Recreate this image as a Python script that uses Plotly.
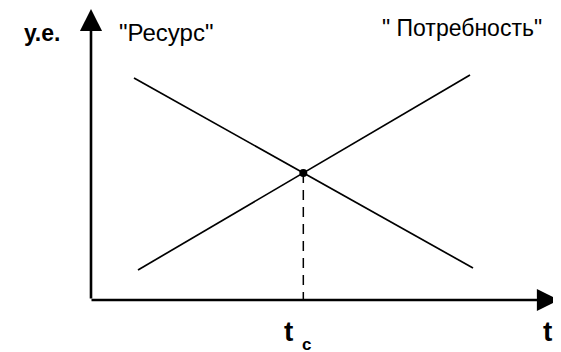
import plotly.graph_objects as go

# Data (abstract units: time t, conventional units y)
resource_t = [43, 382]
resource_y = [222, 32]
need_t = [47, 379]
need_y = [30, 225]

labels = {
    "yaxis": "у.е.",
    "resource": "\"Ресурс\"",
    "need": "\" Потребность\"",
    "t": "t",
    "tc": "t",
    "tc_sub": "c",
}

# intersection point of the two straight lines
k1 = (resource_y[1] - resource_y[0]) / (resource_t[1] - resource_t[0])
k2 = (need_y[1] - need_y[0]) / (need_t[1] - need_t[0])
b1 = resource_y[0] - k1 * resource_t[0]
b2 = need_y[0] - k2 * need_t[0]
tc = (b2 - b1) / (k1 - k2)
yc = k1 * tc + b1

fig = go.Figure()
line_style = dict(color="black", width=1.7)
fig.add_trace(go.Scatter(x=resource_t, y=resource_y, mode="lines", line=line_style, hoverinfo="skip"))
fig.add_trace(go.Scatter(x=need_t, y=need_y, mode="lines", line=line_style, hoverinfo="skip"))
fig.add_trace(go.Scatter(x=[tc, tc], y=[yc, 0], mode="lines",
                         line=dict(color="black", width=1.5, dash="10px,7px"), hoverinfo="skip"))
fig.add_trace(go.Scatter(x=[tc], y=[yc], mode="markers",
                         marker=dict(color="black", size=8, symbol="circle"), hoverinfo="skip"))

# axes as arrows
fig.add_annotation(x=0, y=291, ax=0, ay=0, xref="x", yref="y", axref="x", ayref="y",
                   text="", showarrow=True, arrowhead=2, arrowsize=1.7, arrowwidth=2.6,
                   arrowcolor="black", standoff=0)
fig.add_annotation(x=468, y=0, ax=-1, ay=0, xref="x", yref="y", axref="x", ayref="y",
                   text="", showarrow=True, arrowhead=2, arrowsize=1.7, arrowwidth=2.6,
                   arrowcolor="black", standoff=0)

font = "Liberation Sans, Arial, sans-serif"
fig.add_annotation(x=-49, y=267, text="<b>" + labels["yaxis"] + "</b>", showarrow=False,
                   font=dict(family=font, size=23, color="black"))
fig.add_annotation(x=75, y=268, text=labels["resource"], showarrow=False,
                   font=dict(family=font, size=24, color="black"))
fig.add_annotation(x=371, y=272, text=labels["need"], showarrow=False,
                   font=dict(family=font, size=23, color="black"))
fig.add_annotation(x=456, y=-31, text="<b>" + labels["t"] + "</b>", showarrow=False,
                   font=dict(family=font, size=28, color="black"))
fig.add_annotation(x=tc - 15, y=-31, text="<b>" + labels["tc"] + "</b>", showarrow=False,
                   font=dict(family=font, size=28, color="black"))
fig.add_annotation(x=tc + 3, y=-44, text="<b>" + labels["tc_sub"] + "</b>", showarrow=False,
                   font=dict(family=font, size=17, color="black"))

# the page places the figure 8px from the top-left corner; ranges compensate
fig.update_layout(
    width=553, height=344,
    margin=dict(l=0, r=0, t=0, b=0),
    paper_bgcolor="white", plot_bgcolor="white",
    showlegend=False,
    xaxis=dict(range=[-83, 470], visible=False, fixedrange=True),
    yaxis=dict(range=[-52, 292], visible=False, fixedrange=True),
)
fig.write_html("out.html")
